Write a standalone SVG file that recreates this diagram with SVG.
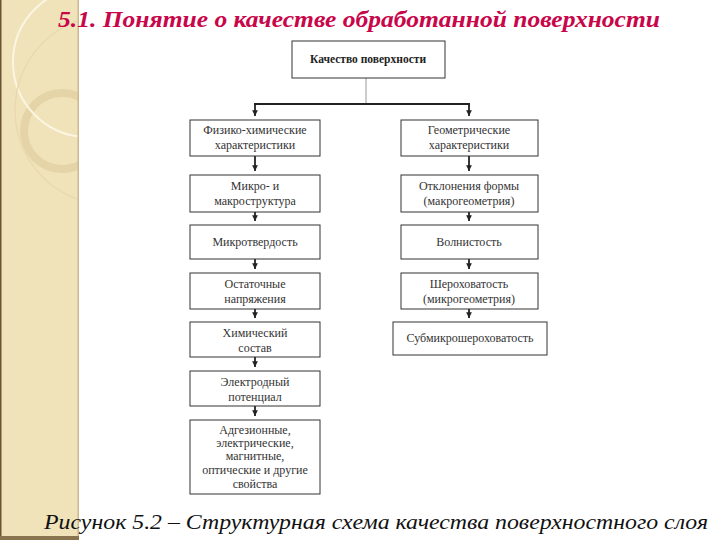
<svg xmlns="http://www.w3.org/2000/svg" width="720" height="540" viewBox="0 0 720 540">
<defs>
<style>
.box{fill:#fff;stroke:#333;stroke-width:1}
.t{font-family:"Liberation Serif",serif;font-size:12px;fill:#333;text-anchor:middle}
.tb{font-family:"Liberation Serif",serif;font-size:11.5px;font-weight:bold;fill:#222;text-anchor:middle}
.ti{font-family:"Liberation Serif",serif;font-size:24px;font-weight:bold;font-style:italic;fill:#c8064a;text-anchor:middle}
.cap{font-family:"Liberation Serif",serif;font-size:22px;font-style:italic;fill:#111}
.c{stroke:#222;stroke-width:1.8;fill:none}
</style>
<marker id="ad" viewBox="0 0 6 6" refX="3" refY="6" markerWidth="3.2" markerHeight="3.2" orient="0" markerUnits="strokeWidth">
<path d="M0,0 L6,0 L3,6 z" fill="#222"/>
</marker>
<clipPath id="band"><rect x="0" y="0" width="79" height="540"/></clipPath>
</defs>
<rect width="720" height="540" fill="#fff"/>
<g id="band-deco">
<rect x="0" y="0" width="79" height="540" fill="#f0e3ba"/>
<g clip-path="url(#band)">
<circle cx="62" cy="131" r="38" fill="none" stroke="#e4d4a8" stroke-width="8"/>
<circle cx="88" cy="62" r="75" fill="none" stroke="#fbf5e2" stroke-width="2"/>
<circle cx="110" cy="110" r="95" fill="none" stroke="#e8d9b0" stroke-width="1.5"/>
</g>
<rect x="0" y="0" width="1.5" height="540" fill="#6b5232"/>
<rect x="77.5" y="0" width="1.5" height="540" fill="#cdb98f"/>
<rect x="0" y="536" width="79" height="4" fill="#8a7450"/>
</g>
<text class="ti" x="359" y="27" textLength="602" lengthAdjust="spacingAndGlyphs">5.1. Понятие о качестве обработанной поверхности</text>
<g id="connectors">
<line x1="366" y1="78" x2="366" y2="104" stroke="#999" stroke-width="1"/>
<line class="c" x1="254" y1="104" x2="470" y2="104"/>
<line class="c" x1="255" y1="103" x2="255" y2="116" marker-end="url(#ad)"/>
<line class="c" x1="469" y1="103" x2="469" y2="116" marker-end="url(#ad)"/>
<line class="c" x1="255" y1="156" x2="255" y2="171" marker-end="url(#ad)"/>
<line class="c" x1="255" y1="212" x2="255" y2="221" marker-end="url(#ad)"/>
<line class="c" x1="255" y1="259" x2="255" y2="269" marker-end="url(#ad)"/>
<line class="c" x1="255" y1="309" x2="255" y2="318" marker-end="url(#ad)"/>
<line class="c" x1="255" y1="357" x2="255" y2="367" marker-end="url(#ad)"/>
<line class="c" x1="255" y1="406" x2="255" y2="416" marker-end="url(#ad)"/>
<line class="c" x1="469" y1="156" x2="469" y2="171" marker-end="url(#ad)"/>
<line class="c" x1="469" y1="212" x2="469" y2="221" marker-end="url(#ad)"/>
<line class="c" x1="469" y1="259" x2="469" y2="269" marker-end="url(#ad)"/>
<line class="c" x1="469" y1="309" x2="469" y2="318" marker-end="url(#ad)"/>
</g>
<g id="n-top"><rect class="box" x="292" y="41" width="153" height="37"/><text class="tb" x="368" y="63">Качество поверхности</text></g>
<g id="n-l1"><rect class="box" x="190" y="120" width="130" height="36"/><text class="t" x="255" y="134">Физико-химические</text><text class="t" x="255" y="149">характеристики</text></g>
<g id="n-l2"><rect class="box" x="190" y="175" width="130" height="37"/><text class="t" x="255" y="190">Микро- и</text><text class="t" x="255" y="205">макроструктура</text></g>
<g id="n-l3"><rect class="box" x="190" y="225" width="130" height="34"/><text class="t" x="255" y="246">Микротвердость</text></g>
<g id="n-l4"><rect class="box" x="190" y="273" width="130" height="36"/><text class="t" x="255" y="288">Остаточные</text><text class="t" x="255" y="303">напряжения</text></g>
<g id="n-l5"><rect class="box" x="190" y="322" width="130" height="35"/><text class="t" x="255" y="337">Химический</text><text class="t" x="255" y="352">состав</text></g>
<g id="n-l6"><rect class="box" x="190" y="371" width="130" height="35"/><text class="t" x="255" y="386">Электродный</text><text class="t" x="255" y="401">потенциал</text></g>
<g id="n-l7"><rect class="box" x="190" y="420" width="130" height="74"/><text class="t" x="255" y="434">Адгезионные,</text><text class="t" x="255" y="447">электрические,</text><text class="t" x="255" y="460">магнитные,</text><text class="t" x="255" y="474">оптические и другие</text><text class="t" x="255" y="488">свойства</text></g>
<g id="n-r1"><rect class="box" x="401" y="120" width="137" height="36"/><text class="t" x="469" y="134">Геометрические</text><text class="t" x="469" y="149">характеристики</text></g>
<g id="n-r2"><rect class="box" x="401" y="175" width="137" height="37"/><text class="t" x="469" y="190">Отклонения формы</text><text class="t" x="469" y="205">(макрогеометрия)</text></g>
<g id="n-r3"><rect class="box" x="401" y="225" width="137" height="34"/><text class="t" x="469" y="246">Волнистость</text></g>
<g id="n-r4"><rect class="box" x="401" y="273" width="137" height="36"/><text class="t" x="469" y="288">Шероховатость</text><text class="t" x="469" y="303">(микрогеометрия)</text></g>
<g id="n-r5"><rect class="box" x="393" y="322" width="154" height="33"/><text class="t" x="470" y="342">Субмикрошероховатость</text></g>
<text class="cap" x="44" y="529" textLength="664" lengthAdjust="spacingAndGlyphs">Рисунок 5.2 – Структурная схема качества поверхностного слоя</text>
</svg>
